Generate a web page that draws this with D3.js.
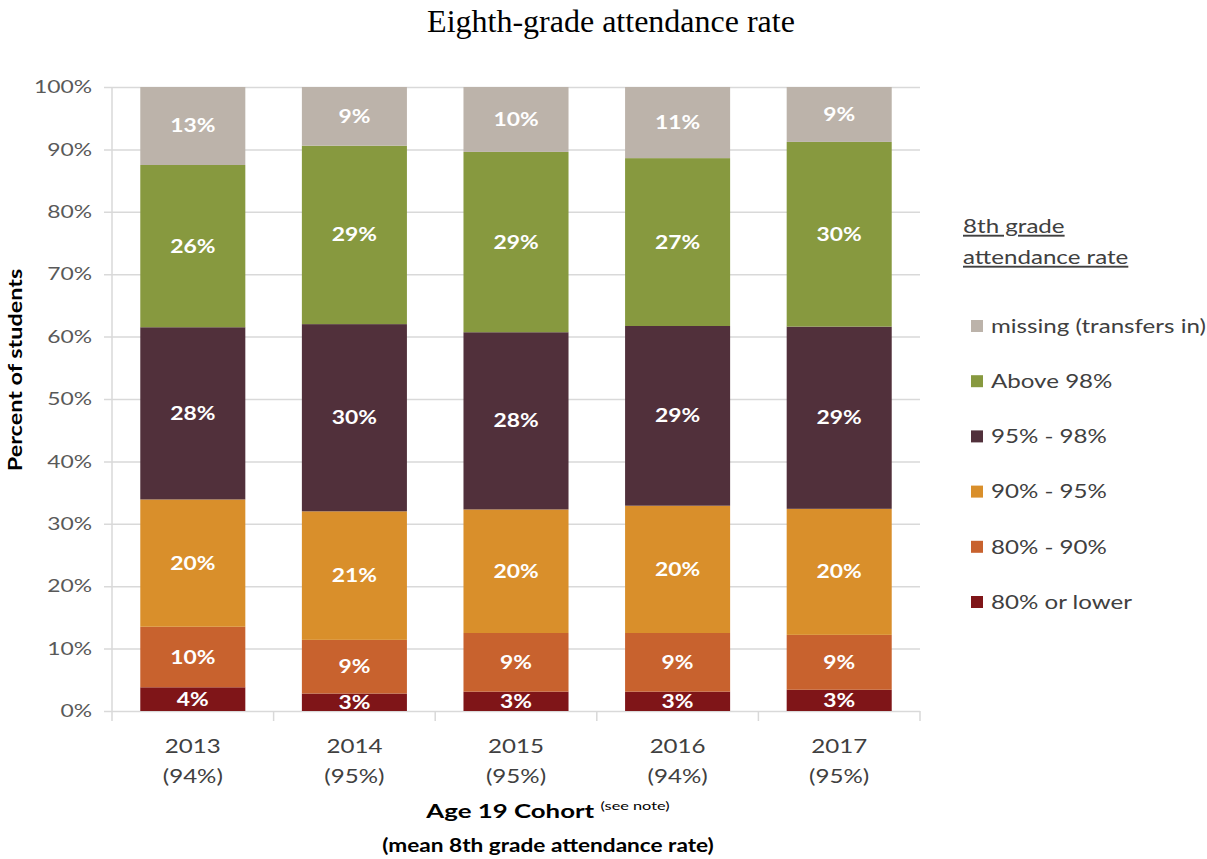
<!DOCTYPE html>
<html>
<head>
<meta charset="utf-8">
<script src="https://cdn.jsdelivr.net/npm/d3@7"></script>
<style>
  body { margin: 0; background: #fff; }
  svg { display: block; }
</style>
</head>
<body>
<svg id="chart"></svg>
<script>
// data
var years = ["2013", "2014", "2015", "2016", "2017"];
var meanRates = ["(94%)", "(95%)", "(95%)", "(94%)", "(95%)"];
var bands = ["80% or lower", "80% - 90%", "90% - 95%", "95% - 98%", "Above 98%", "missing (transfers in)"];
var lowest  = [3.8, 2.8, 3.1, 3.1, 3.4];
var band80  = [9.7, 8.6, 9.4, 9.4, 8.8];
var band90  = [20.4, 20.6, 19.8, 20.4, 20.2];
var band95  = [27.6, 30.0, 28.4, 28.8, 29.2];
var above98 = [26.0, 28.6, 28.9, 26.9, 29.6];
var missing = [12.5, 9.4, 10.4, 11.4, 8.8];
var yTicks = [0, 10, 20, 30, 40, 50, 60, 70, 80, 90, 100];

var colors = ["#7f1518", "#c8622e", "#d98f2b", "#51303b", "#87993f", "#bcb3aa"];

var width = 1207, height = 859;
var margin = { top: 87, right: 287, bottom: 148, left: 112 };
var w = width - margin.left - margin.right;
var h = height - margin.top - margin.bottom;

var font = "Lato, 'Open Sans', sans-serif";
var sx = 1.27; // the original's labels are wider than Lato

// move x/y into a transform so the glyphs can be widened
function widen(sel, k) {
  sel.attr("transform", function () {
    var tx = +this.getAttribute("x") || 0, ty = +this.getAttribute("y") || 0;
    return "translate(" + tx + "," + ty + ") scale(" + (k || sx) + ",1)";
  }).attr("x", 0).attr("y", 0);
}

var svg = d3.select("#chart").attr("width", width).attr("height", height);

var rows = years.map(function (yr, i) {
  return { year: yr, b0: lowest[i], b1: band80[i], b2: band90[i], b3: band95[i], b4: above98[i], b5: missing[i] };
});
var keys = ["b0", "b1", "b2", "b3", "b4", "b5"];
var series = d3.stack().keys(keys)(rows);

var x = d3.scaleBand().domain(years).range([0, w]).paddingInner(0.35).paddingOuter(0.175);
var y = d3.scaleLinear().domain([0, 100]).range([h, 0]);

var g = svg.append("g").attr("transform", "translate(" + margin.left + "," + margin.top + ")");

// title
svg.append("text")
  .attr("x", 611).attr("y", 32)
  .attr("text-anchor", "middle")
  .style("font-family", "'Liberation Serif', 'Times New Roman', serif")
  .style("font-size", "32px")
  .attr("fill", "#000")
  .text("Eighth-grade attendance rate");

// gridlines + y axis
var yAxis = g.append("g")
  .call(d3.axisLeft(y).tickValues(yTicks).tickSize(-w).tickFormat(function (d) { return d + "%"; }));
yAxis.select(".domain").remove();
yAxis.selectAll("line").attr("stroke", "#d9d9d9").attr("stroke-width", 1.5).attr("x1", -8);
yAxis.selectAll("text")
  .attr("x", -20)
  .style("font-family", font).style("font-size", "18px").attr("fill", "#595959")
  .call(widen);

g.append("line").attr("x1", 0).attr("x2", 0).attr("y1", 0).attr("y2", h)
  .attr("stroke", "#d9d9d9").attr("stroke-width", 1.5);

// x axis ticks between categories
var xTickPos = d3.range(years.length + 1).map(function (i) { return i * (w / years.length); });
g.selectAll(".xtick").data(xTickPos).enter().append("line")
  .attr("x1", function (d) { return d; }).attr("x2", function (d) { return d; })
  .attr("y1", h).attr("y2", h + 10)
  .attr("stroke", "#d9d9d9").attr("stroke-width", 1.5);

// bars
var layers = g.selectAll(".layer").data(series).enter().append("g")
  .attr("fill", function (d, i) { return colors[i]; });

layers.selectAll("rect").data(function (d) { return d; }).enter().append("rect")
  .attr("x", function (d) { return x(d.data.year); })
  .attr("width", x.bandwidth())
  .attr("y", function (d) { return y(d[1]); })
  .attr("height", function (d) { return y(d[0]) - y(d[1]); });

layers.selectAll("text").data(function (d) { return d; }).enter().append("text")
  .attr("x", function (d) { return x(d.data.year) + x.bandwidth() / 2; })
  .attr("y", function (d) { return (y(d[0]) + y(d[1])) / 2; })
  .attr("dy", "0.36em")
  .attr("text-anchor", "middle")
  .style("font-family", font).style("font-size", "18px").style("font-weight", "bold")
  .attr("fill", "#fff")
  .text(function (d) { return Math.round(d[1] - d[0]) + "%"; })
  .call(widen);

// x labels
var xl = g.selectAll(".xl").data(years).enter().append("g")
  .attr("transform", function (d) { return "translate(" + (x(d) + x.bandwidth() / 2) + "," + h + ")"; });
xl.append("text").attr("y", 42).attr("text-anchor", "middle")
  .style("font-family", font).style("font-size", "19px").attr("fill", "#404040")
  .text(function (d) { return d; })
  .call(widen);
xl.append("text").attr("y", 72).attr("text-anchor", "middle")
  .style("font-family", font).style("font-size", "19px").attr("fill", "#404040")
  .text(function (d, i) { return meanRates[i]; })
  .call(widen);

// x axis title
var xt = svg.append("text").attr("x", 548).attr("y", 818)
  .attr("text-anchor", "middle")
  .style("font-family", font).style("font-size", "19px").style("font-weight", "bold").attr("fill", "#000");
xt.append("tspan").text("Age 19 Cohort ");
xt.append("tspan").attr("dy", -8).style("font-size", "12px").style("font-weight", "normal").text("(see note)");
xt.call(widen, 1.36);
svg.append("text").attr("x", 548).attr("y", 852)
  .attr("text-anchor", "middle")
  .style("font-family", font).style("font-size", "19px").style("font-weight", "bold").attr("fill", "#000")
  .text("(mean 8th grade attendance rate)")
  .call(widen, 1.19);

// y axis title
svg.append("text")
  .attr("transform", "translate(22,370) rotate(-90) scale(1.3,1)")
  .attr("text-anchor", "middle")
  .style("font-family", font).style("font-size", "18px").style("font-weight", "bold").attr("fill", "#000")
  .text("Percent of students");

// legend
var lg = svg.append("g").attr("transform", "translate(963,0)");
["8th grade", "attendance rate"].forEach(function (t, i) {
  lg.append("text").attr("x", 0).attr("y", 233 + i * 31)
    .style("font-family", font).style("font-size", "19px").attr("fill", "#404040")
    .style("text-decoration", "underline")
    .text(t)
    .call(widen);
});
var legendOrder = bands.slice().reverse();
var items = lg.selectAll(".item").data(legendOrder).enter().append("g")
  .attr("transform", function (d, i) { return "translate(0," + (326 + i * 55.2) + ")"; });
items.append("rect").attr("x", 8).attr("y", -6).attr("width", 12).attr("height", 12)
  .attr("fill", function (d, i) { return colors[colors.length - 1 - i]; });
items.append("text").attr("x", 28).attr("dy", "0.36em")
  .style("font-family", font).style("font-size", "19px").attr("fill", "#404040")
  .text(function (d) { return d; })
  .call(widen);
</script>
</body>
</html>
